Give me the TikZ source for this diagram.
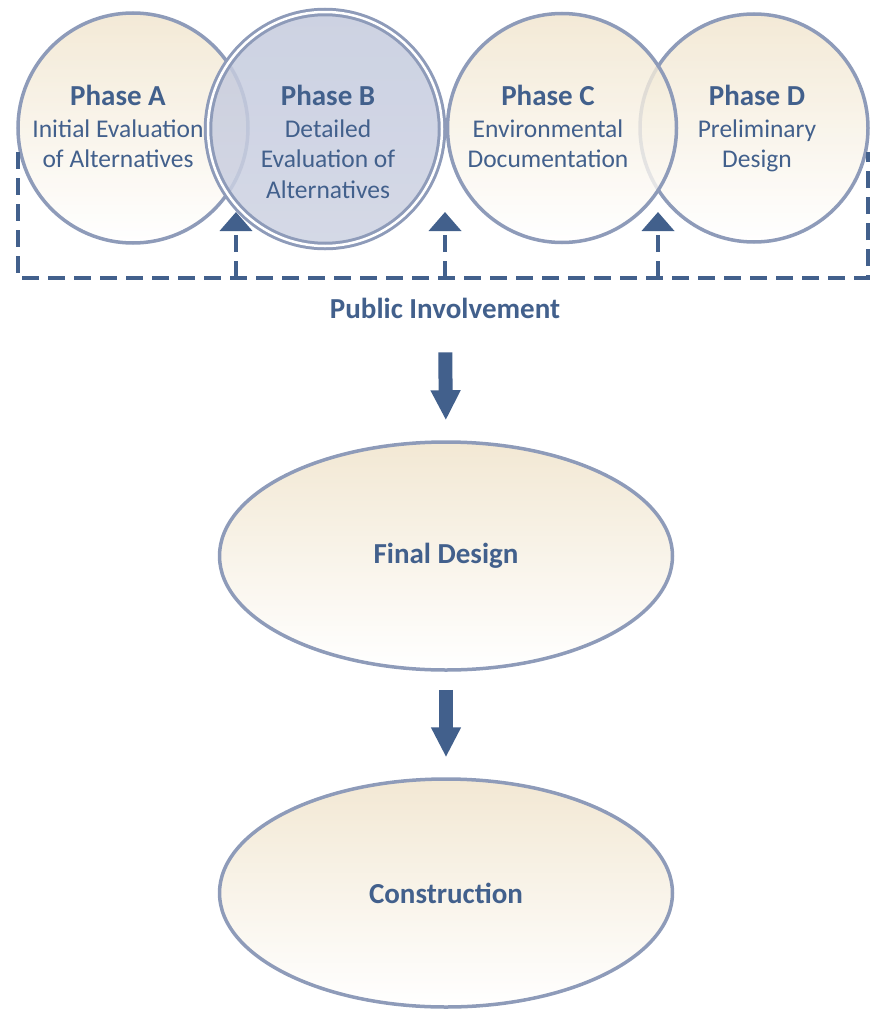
\documentclass[tikz,border=0pt]{standalone}
\usepackage{fontspec}
\setmainfont{Carlito}
\usetikzlibrary{arrows.meta,positioning,shapes.geometric}
\definecolor{ringblue}{HTML}{8E9BB9}
\definecolor{inkblue}{HTML}{42608C}
\definecolor{sand}{HTML}{F0E4CC}
\definecolor{haze}{HTML}{C4CADD}
\newcommand{\phasetitle}[1]{{\fontsize{29}{30}\selectfont\bfseries #1}}

\begin{document}
\begin{tikzpicture}[x=1pt,y=-1pt,
    phase/.style={circle,draw=ringblue,line width=3.5pt,inner sep=0pt,
      top color=sand,bottom color=white,fill opacity=0.8,draw opacity=1},
    stage/.style={ellipse,draw=ringblue,line width=3.5pt,inner sep=0pt,
      minimum width=453pt,minimum height=228pt,top color=sand!85,bottom color=white,
      text=inkblue,font=\fontsize{29}{30}\selectfont\bfseries},
    phasetext/.style={anchor=north,align=center,inner sep=0pt,text=inkblue,
      font=\fontsize{25.5}{30.5}\selectfont},
    involve/.style={draw=inkblue,line width=4pt,dash pattern=on 17pt off 9pt},
    bigarrow/.style={draw=inkblue,line width=14pt,-{Triangle[width=28pt,length=30pt]}}]
  \useasboundingbox (0,0) rectangle (874,1009);
  % the four phases, B drawn last so that it lies on top
  \node[phase,minimum size=228pt] (cD) at (754,128) {};
  \node[phase,minimum size=229pt] (cC) at (562,128) {};
  \node[phase,minimum size=230pt] (cA) at (133,128) {};
  \node[phase,minimum size=234pt,top color=haze,bottom color=haze!85,fill opacity=0.85,
        double=white,double distance=2.5pt,line width=3pt] (cB) at (325,129) {};
  \node[phasetext] (tA) at (118,85) {\phasetitle{Phase A}\\[1pt]Initial Evaluation\\of Alternatives};
  \node[phasetext] (tB) at (328,85) {\phasetitle{Phase B}\\[1pt]Detailed\\Evaluation of\\Alternatives};
  \node[phasetext] (tC) at (548,85) {\phasetitle{Phase C}\\[1pt]Environmental\\Documentation};
  \node[phasetext] (tD) at (757,85) {\phasetitle{Phase D}\\[1pt]Preliminary\\Design};
  % public involvement feedback
  \coordinate (busL) at (18,152);
  \coordinate (busR) at (868,152);
  \coordinate (inAB) at (236,212);
  \coordinate (inBC) at (445,212);
  \coordinate (inCD) at (658,212);
  \draw[involve] (busL) |- (busR |- 0,278) -- (busR);
  \foreach \p in {inAB,inBC,inCD}
    \draw[involve,-{Triangle[width=32pt,length=19pt]}] (\p |- 0,278) -- (\p);
  \node[anchor=base,inner sep=0pt,text=inkblue,font=\fontsize{29}{30}\selectfont\bfseries]
    (pub) at (445,318) {Public Involvement};
  % design and construction
  \node[stage] (fd) at (446,556) {Final Design};
  \node[stage] (con) at (446,893) {Construction};
  \draw[bigarrow,shorten <=34pt,shorten >=20pt] (pub.south) -- (fd.north);
  \draw[bigarrow,shorten <=18pt,shorten >=20pt] (fd.south) -- (con.north);
\end{tikzpicture}
\end{document}
